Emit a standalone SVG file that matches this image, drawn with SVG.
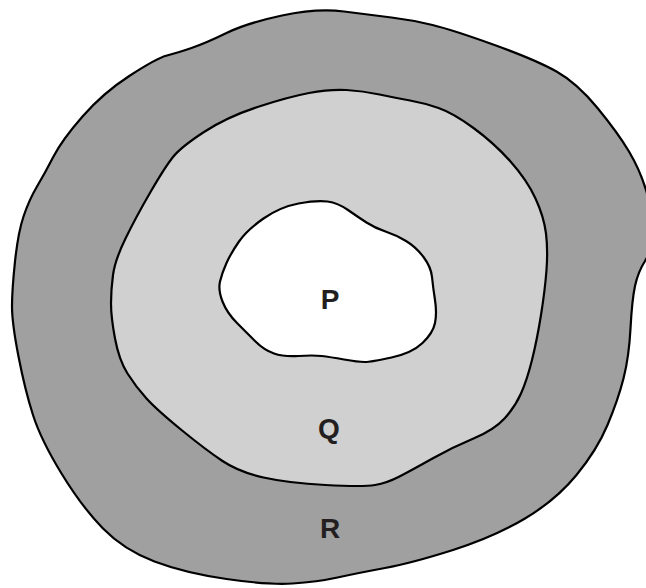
<svg xmlns="http://www.w3.org/2000/svg" width="646" height="588" viewBox="0 0 646 588">
<style>
.r{stroke:#000;stroke-width:2.2;stroke-linejoin:round}
.lbl{font-family:"Liberation Sans",Arial,sans-serif;font-weight:bold;font-size:28px;fill:#231f20;text-anchor:middle}
</style>
<rect width="646" height="588" fill="#fff"/>
<g id="R">
<path class="r" fill="#a0a0a0" d="M282,15.5 Q317,8 344,11.5 Q371,15 391.5,17.5 Q412,20 432.5,25 Q453,30 494.5,45 Q536,60 556.5,71.5 Q577,83 597.5,108 Q618,133 629,151.5 Q640,170 646,190 Q652,210 652,230 Q652,250 645,261 Q638,272 635,286 Q632,300 630.5,328.5 Q629,357 623.5,378.5 Q618,400 607.5,425 Q597,450 576.5,475 Q556,500 525,518.5 Q494,537 453,550 Q412,563 385,568 Q358,573 337.5,577.5 Q317,582 292.5,583.5 Q268,585 226.5,579 Q185,573 154.5,561.5 Q124,550 103,528.5 Q82,507 61.5,473.5 Q41,440 33,415 Q25,390 18.5,356.5 Q12,323 12,306.5 Q12,290 15,261.5 Q18,233 23.5,216.5 Q29,200 37,186.5 Q45,173 53.5,156.5 Q62,140 82.5,116.5 Q103,93 130,75.5 Q157,58 167,55.5 Q177,53 191.5,48 Q206,43 226.5,33 Q247,23 282,15.5 Z"/>
<text class="lbl" x="330" y="538">R</text>
</g>
<g id="Q">
<path class="r" fill="#d0d0d0" d="M309,93 Q330,89 346.5,90 Q363,91 379.5,94.5 Q396,98 410,100.5 Q424,103 438.5,108 Q453,113 473.5,128 Q494,143 510.5,161.5 Q527,180 535.5,198.5 Q544,217 546,233.5 Q548,250 546.5,270 Q545,290 541,315 Q537,340 532,360 Q527,380 521,393.5 Q515,407 504.5,418.5 Q494,430 473.5,438.5 Q453,447 432.5,458.5 Q412,470 399.5,476.5 Q387,483 375,485 Q363,487 325.5,485 Q288,483 263.5,477.5 Q239,472 222.5,461 Q206,450 181.5,430 Q157,410 146.5,398.5 Q136,387 127.5,373.5 Q119,360 115,338.5 Q111,317 111,303.5 Q111,290 113,275 Q115,260 125.5,238.5 Q136,217 150.5,192 Q165,167 173,157 Q181,147 204,132 Q227,117 257.5,107 Q288,97 309,93 Z"/>
<text class="lbl" x="329" y="438">Q</text>
</g>
<g id="P">
<path class="r" fill="#fff" d="M298.5,203.5 Q317,200 327.5,201.5 Q338,203 348,210 Q358,217 366.5,222.5 Q375,228 385.5,231.5 Q396,235 406,241 Q416,247 423.5,257 Q431,267 432,277 Q433,287 435,300 Q437,313 435,323 Q433,333 422.5,343 Q412,353 391.5,357.5 Q371,362 364.5,362 Q358,362 344,359.5 Q330,357 321.5,356 Q313,355 298.5,356 Q284,357 274,353.5 Q264,350 255.5,341.5 Q247,333 237,323 Q227,313 222.5,301.5 Q218,290 220,281.5 Q222,273 226.5,263 Q231,253 239,241.5 Q247,230 263.5,218.5 Q280,207 298.5,203.5 Z"/>
<text class="lbl" x="330" y="309">P</text>
</g>
<g id="connectors"/>
</svg>
